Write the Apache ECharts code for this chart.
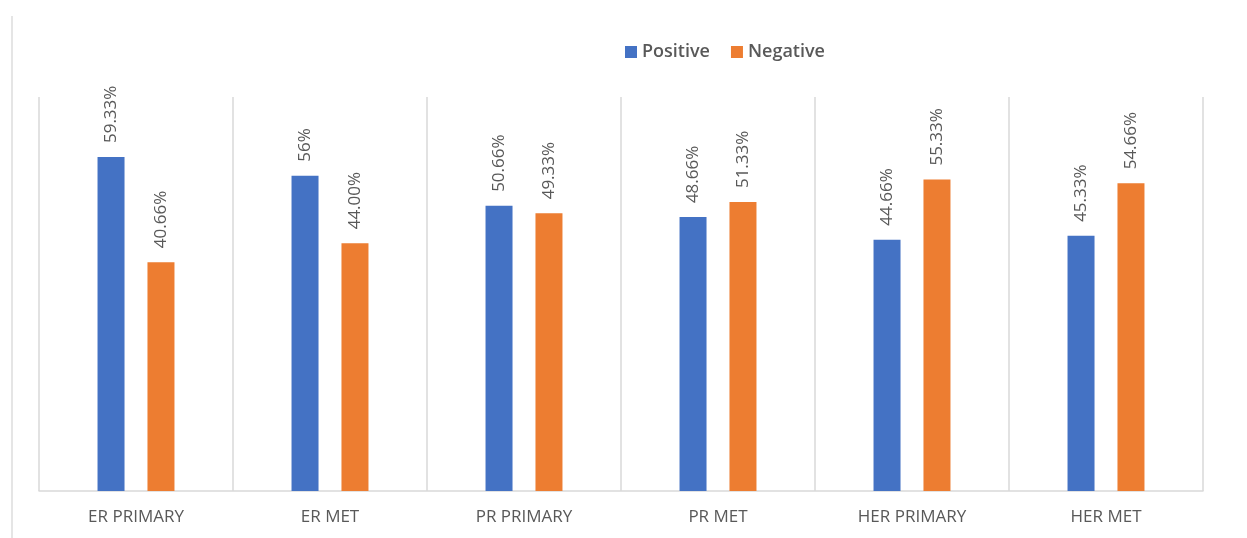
<!DOCTYPE html>
<html>
<head>
<meta charset="utf-8">
<style>
  html, body { margin: 0; padding: 0; background: #fff; }
  #chart { width: 1247px; height: 538px; }
</style>
<script src="https://cdn.jsdelivr.net/npm/echarts@6/dist/echarts.min.js"></script>
</head>
<body>
<div id="chart"></div>
<script>
// 数据
const categories = ['ER PRIMARY', 'ER MET', 'PR PRIMARY', 'PR MET', 'HER PRIMARY', 'HER MET'];
const positiveVals = [59.33, 56, 50.66, 48.66, 44.66, 45.33];
const negativeVals = [40.66, 44.00, 49.33, 51.33, 55.33, 54.66];
const positiveLabels = ['59.33%', '56%', '50.66%', '48.66%', '44.66%', '45.33%'];
const negativeLabels = ['40.66%', '44.00%', '49.33%', '51.33%', '55.33%', '54.66%'];

const font = '"Open Sans", "Noto Sans", sans-serif';
const textGray = '#595959';
const lineGray = '#d9d9d9';

const barLabel = (labels) => ({
  show: true,
  position: 'top',
  rotate: 90,
  align: 'left',
  verticalAlign: 'middle',
  distance: 14,
  fontSize: 17,
  fontFamily: font,
  color: textGray,
  formatter: p => labels[p.dataIndex]
});

const myChart = echarts.init(document.getElementById('chart'));
myChart.setOption({
  animation: false,
  backgroundColor: '#fff',
  legend: {
    left: 620,
    top: 38,
    itemWidth: 12,
    itemHeight: 12,
    itemGap: 21,
    itemTextGap: 5,
    icon: 'rect',
    textStyle: { fontSize: 18, fontWeight: 600, fontFamily: font, color: textGray },
    data: ['Positive', 'Negative']
  },
  grid: { left: 39, right: 44, top: 97, bottom: 47, containLabel: false },
  xAxis: {
    type: 'category',
    data: categories,
    axisLine: { lineStyle: { color: lineGray, width: 1.5 } },
    axisTick: { show: false },
    splitLine: { show: true, lineStyle: { color: lineGray, width: 1.5 } },
    axisLabel: { fontSize: 17, fontFamily: font, color: textGray, margin: 18 }
  },
  yAxis: {
    type: 'value',
    min: 0,
    max: 70,
    show: false,
    splitLine: { show: false }
  },
  // 外框左侧线
  graphic: [{
    type: 'line',
    shape: { x1: 12, y1: 16, x2: 12, y2: 538 },
    style: { stroke: '#dcdcdc', lineWidth: 1.5 }
  }],
  series: [
    {
      name: 'Positive',
      type: 'bar',
      data: positiveVals,
      barWidth: 27,
      barGap: '85%',
      itemStyle: { color: '#4472C4' },
      label: barLabel(positiveLabels)
    },
    {
      name: 'Negative',
      type: 'bar',
      data: negativeVals,
      barWidth: 27,
      itemStyle: { color: '#ED7D31' },
      label: barLabel(negativeLabels)
    }
  ]
});
</script>
</body>
</html>
